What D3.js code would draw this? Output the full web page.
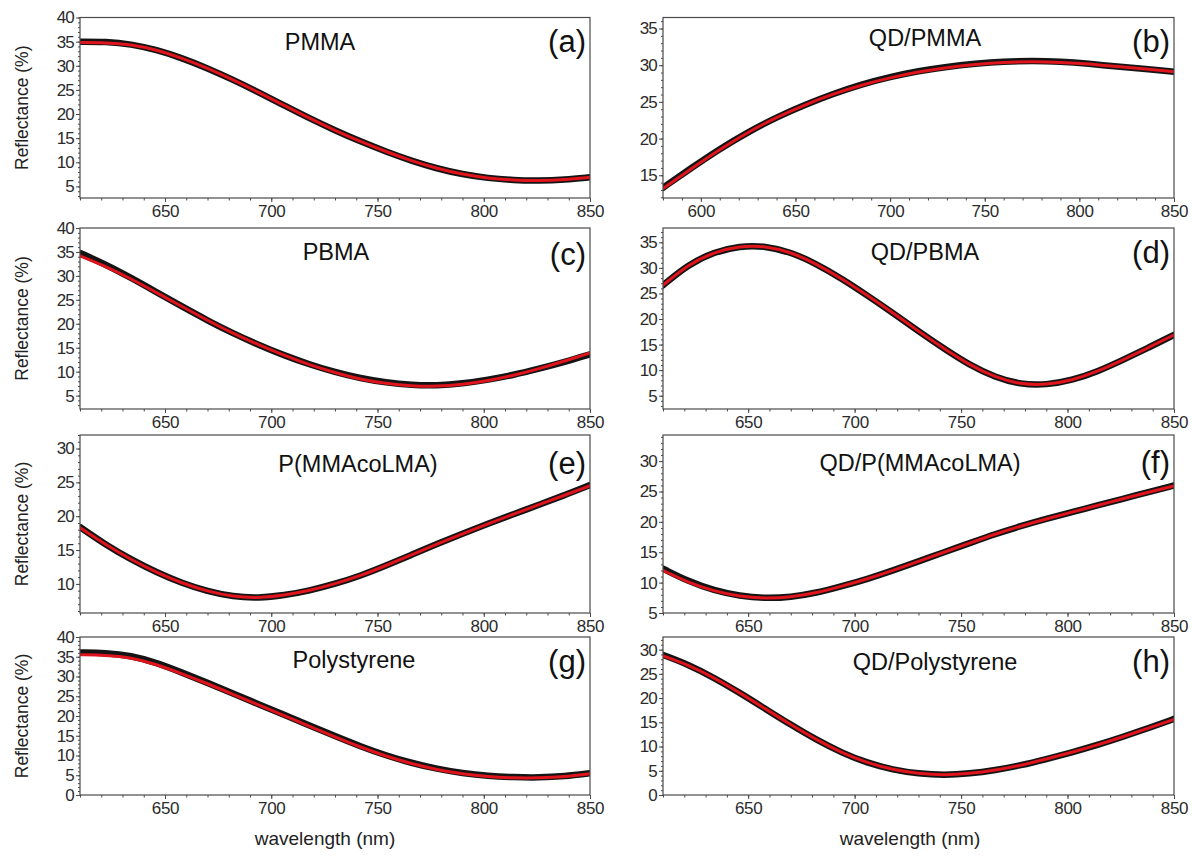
<!DOCTYPE html>
<html>
<head>
<meta charset="utf-8">
<script src="https://cdn.jsdelivr.net/npm/d3@7/dist/d3.min.js"></script>
<style>
  html, body { margin: 0; padding: 0; background: #fff; }
  svg { display: block; font-family: "Liberation Sans", Arial, Helvetica, sans-serif; }
</style>
</head>
<body>
<svg id="chart" width="1192" height="857"></svg>
<script>
// Wavelength grids (nm)
const wl = [610, 622, 634, 646, 658, 670, 682, 694, 706, 718, 730, 742, 754, 766, 778, 790, 802, 814, 826, 838, 850];
const wlQdPmma = [580, 595, 610, 625, 640, 655, 670, 685, 700, 715, 730, 745, 760, 775, 790, 805, 820, 835, 850];

// Reflectance (%) — measured spectra and fitted curves
const pmmaMeas   = [35.0, 35.0, 34.5, 33.3, 31.6, 29.5, 27.1, 24.5, 21.8, 19.1, 16.6, 14.3, 12.2, 10.3, 8.7, 7.5, 6.7, 6.3, 6.2, 6.4, 6.9];
const pmmaFit    = [34.8, 34.8, 34.4, 33.3, 31.6, 29.5, 27.1, 24.5, 21.8, 19.1, 16.6, 14.3, 12.2, 10.3, 8.7, 7.5, 6.7, 6.3, 6.2, 6.4, 6.9];
const qdPmmaMeas = [13.3, 16.0, 18.6, 20.9, 22.9, 24.6, 26.1, 27.4, 28.4, 29.2, 29.8, 30.2, 30.5, 30.6, 30.5, 30.2, 29.8, 29.5, 29.1];
const qdPmmaFit  = [13.2, 15.9, 18.5, 20.9, 22.9, 24.6, 26.1, 27.3, 28.3, 29.1, 29.7, 30.1, 30.4, 30.5, 30.4, 30.2, 29.8, 29.5, 29.1];
const pbmaMeas   = [34.8, 32.4, 29.6, 26.6, 23.6, 20.7, 18.0, 15.6, 13.4, 11.5, 9.9, 8.6, 7.7, 7.2, 7.1, 7.5, 8.3, 9.3, 10.6, 12.0, 13.6];
const pbmaFit    = [34.2, 32.0, 29.4, 26.5, 23.6, 20.7, 18.0, 15.6, 13.4, 11.4, 9.8, 8.4, 7.5, 7.0, 6.9, 7.3, 8.1, 9.2, 10.6, 12.2, 13.9];
const qdPbmaMeas = [26.6, 30.7, 33.1, 34.3, 34.3, 33.1, 30.8, 27.9, 24.6, 21.2, 17.6, 14.2, 11.0, 8.6, 7.2, 7.1, 8.0, 9.7, 12.0, 14.4, 16.9];
const qdPbmaFit  = [26.6, 30.7, 33.1, 34.3, 34.3, 33.1, 30.8, 27.9, 24.6, 21.2, 17.6, 14.2, 11.0, 8.6, 7.2, 7.1, 8.0, 9.7, 12.0, 14.4, 16.9];
const pcoMeas    = [18.4, 15.8, 13.6, 11.7, 10.1, 8.9, 8.1, 7.9, 8.3, 9.0, 10.0, 11.2, 12.7, 14.3, 15.9, 17.4, 18.9, 20.3, 21.7, 23.1, 24.6];
const pcoFit     = [18.3, 15.8, 13.6, 11.7, 10.1, 8.9, 8.1, 7.9, 8.3, 9.0, 10.0, 11.2, 12.7, 14.3, 15.9, 17.4, 18.9, 20.3, 21.7, 23.1, 24.5];
const qdPcoMeas  = [12.3, 10.2, 8.7, 7.8, 7.4, 7.6, 8.3, 9.4, 10.6, 12.0, 13.5, 15.0, 16.5, 18.0, 19.3, 20.5, 21.6, 22.7, 23.8, 24.9, 26.0];
const qdPcoFit   = [12.0, 10.0, 8.6, 7.7, 7.4, 7.6, 8.3, 9.4, 10.6, 12.0, 13.5, 15.0, 16.5, 18.0, 19.3, 20.5, 21.6, 22.7, 23.8, 24.9, 25.9];
const psMeas     = [36.1, 36.0, 35.3, 33.5, 31.0, 28.4, 25.7, 23.0, 20.3, 17.6, 14.9, 12.3, 10.0, 8.1, 6.6, 5.5, 4.8, 4.5, 4.4, 4.7, 5.5];
const psFit      = [35.5, 35.4, 34.8, 33.1, 30.7, 28.2, 25.5, 22.8, 20.1, 17.4, 14.7, 12.1, 9.8, 7.9, 6.4, 5.3, 4.6, 4.3, 4.3, 4.6, 5.4];
const qdPsMeas   = [28.9, 26.9, 24.2, 21.1, 17.8, 14.5, 11.4, 8.7, 6.6, 5.2, 4.4, 4.1, 4.4, 5.1, 6.1, 7.4, 8.8, 10.3, 12.0, 13.8, 15.7];
const qdPsFit    = [28.7, 26.8, 24.2, 21.1, 17.8, 14.5, 11.4, 8.7, 6.6, 5.2, 4.4, 4.1, 4.4, 5.1, 6.1, 7.4, 8.8, 10.3, 12.0, 13.8, 15.6];

// Panel titles, letters and axis ticks
const titles  = ["PMMA", "QD/PMMA", "PBMA", "QD/PBMA", "P(MMAcoLMA)", "QD/P(MMAcoLMA)", "Polystyrene", "QD/Polystyrene"];
const letters = ["(a)", "(b)", "(c)", "(d)", "(e)", "(f)", "(g)", "(h)"];
const xTicks       = [650, 700, 750, 800, 850];
const xTicksQdPmma = [600, 650, 700, 750, 800, 850];
const yTicks = [
  [5, 10, 15, 20, 25, 30, 35, 40],
  [15, 20, 25, 30, 35],
  [5, 10, 15, 20, 25, 30, 35, 40],
  [5, 10, 15, 20, 25, 30, 35],
  [10, 15, 20, 25, 30],
  [5, 10, 15, 20, 25, 30],
  [0, 5, 10, 15, 20, 25, 30, 35, 40],
  [0, 5, 10, 15, 20, 25, 30]
];
const xDomains = [[610, 850], [580, 850], [610, 850], [610, 850], [610, 850], [610, 850], [610, 850], [610, 850]];
const yDomains = [[2.6, 40], [11.9, 36.5], [2.2, 40], [2.4, 37.8], [5.7, 32], [5, 34.3], [0, 40], [0, 32.6]];

const panelData = [
  { x: wl, meas: pmmaMeas, fit: pmmaFit },
  { x: wlQdPmma, meas: qdPmmaMeas, fit: qdPmmaFit },
  { x: wl, meas: pbmaMeas, fit: pbmaFit },
  { x: wl, meas: qdPbmaMeas, fit: qdPbmaFit },
  { x: wl, meas: pcoMeas, fit: pcoFit },
  { x: wl, meas: qdPcoMeas, fit: qdPcoFit },
  { x: wl, meas: psMeas, fit: psFit },
  { x: wl, meas: qdPsMeas, fit: qdPsFit }
];

// Layout of the 4x2 grid of plot frames
const colX = [[80, 590], [663, 1174]];
const rowY = [[17.5, 198], [228, 409], [435, 613], [637, 795]];
const titleX    = [320, 925, 336, 925, 358, 920, 354, 935];
const titleFrac = [0.136, 0.114, 0.133, 0.133, 0.163, 0.157, 0.146, 0.158];
const letterFrac = [0.136, 0.136, 0.149, 0.138, 0.163, 0.157, 0.158, 0.158];

const svg = d3.select("#chart");
const frameColor = "#4a4a4a";
const labelColor = "#2b2b2b";

panelData.forEach((p, i) => {
  const col = i % 2, row = Math.floor(i / 2);
  const [x0, x1] = colX[col];
  const [y0, y1] = rowY[row];
  const x = d3.scaleLinear().domain(xDomains[i]).range([x0, x1]);
  const y = d3.scaleLinear().domain(yDomains[i]).range([y1, y0]);
  const g = svg.append("g");

  // minor ticks
  const xd = xDomains[i], yd = yDomains[i];
  const xMinor = d3.range(Math.ceil(xd[0] / 10) * 10, xd[1] + 0.1, 10);
  const yMinor = d3.range(Math.ceil(yd[0]), yd[1] + 0.01, 1);

  g.append("g")
    .attr("transform", `translate(0,${y1})`)
    .call(d3.axisBottom(x).tickValues(xMinor).tickSize(2.5).tickFormat(""))
    .call(a => a.select(".domain").remove())
    .call(a => a.selectAll("line").attr("stroke", frameColor));
  g.append("g")
    .attr("transform", `translate(${x0},0)`)
    .call(d3.axisLeft(y).tickValues(yMinor).tickSize(2).tickFormat(""))
    .call(a => a.select(".domain").remove())
    .call(a => a.selectAll("line").attr("stroke", frameColor));

  // major ticks and labels
  const xAx = g.append("g")
    .attr("transform", `translate(0,${y1})`)
    .call(d3.axisBottom(x).tickValues(i === 1 ? xTicksQdPmma : xTicks).tickSize(4).tickPadding(3).tickFormat(d3.format("d")));
  xAx.select(".domain").remove();
  xAx.selectAll("line").attr("stroke", frameColor);
  xAx.selectAll("text").attr("font-size", 17).attr("fill", labelColor)
    .attr("font-family", "Liberation Sans, Arial, sans-serif").attr("letter-spacing", -0.3);

  const yAx = g.append("g")
    .attr("transform", `translate(${x0},0)`)
    .call(d3.axisLeft(y).tickValues(yTicks[i]).tickSize(4).tickPadding(2).tickFormat(d3.format("d")));
  yAx.select(".domain").remove();
  yAx.selectAll("line").attr("stroke", frameColor);
  yAx.selectAll("text").attr("font-size", 17).attr("fill", labelColor)
    .attr("font-family", "Liberation Sans, Arial, sans-serif").attr("letter-spacing", -0.8);

  // clip curves to the frame
  const clipId = "clip" + i;
  svg.append("clipPath").attr("id", clipId)
    .append("rect").attr("x", x0).attr("y", y0).attr("width", x1 - x0).attr("height", y1 - y0);

  const line = d3.line().curve(d3.curveBasis);
  const measPts = p.x.map((w, k) => [x(w), y(p.meas[k])]);
  const fitPts = p.x.map((w, k) => [x(w), y(p.fit[k])]);

  const curves = g.append("g").attr("clip-path", `url(#${clipId})`);
  curves.append("path").attr("d", line(measPts))
    .attr("fill", "none").attr("stroke", "#141414").attr("stroke-width", 6.5)
    .attr("stroke-linecap", "round").attr("stroke-linejoin", "round");
  curves.append("path").attr("d", line(fitPts))
    .attr("fill", "none").attr("stroke", "#e0141c").attr("stroke-width", 3)
    .attr("stroke-linecap", "round");

  // frame
  g.append("rect").attr("x", x0).attr("y", y0).attr("width", x1 - x0).attr("height", y1 - y0)
    .attr("fill", "none").attr("stroke", frameColor).attr("stroke-width", 1.2);

  // title and panel letter
  const ty = y0 + titleFrac[i] * (y1 - y0);
  g.append("text").attr("x", titleX[i]).attr("y", ty + 8.4)
    .attr("text-anchor", "middle").attr("font-size", 23.5).attr("fill", "#111")
    .text(titles[i]);
  const ly = y0 + letterFrac[i] * (y1 - y0);
  g.append("text").attr("x", x1 - 4).attr("y", ly + 10)
    .attr("text-anchor", "end").attr("font-size", 31).attr("fill", "#111")
    .text(letters[i]);

  // y-axis title on the left column
  if (col === 0) {
    svg.append("text")
      .attr("transform", `translate(28,${(y0 + y1) / 2}) rotate(-90)`)
      .attr("text-anchor", "middle").attr("font-size", 17.5).attr("fill", "#222")
      .text("Reflectance (%)");
  }
  // x-axis title under the bottom row
  if (row === 3) {
    svg.append("text")
      .attr("x", col === 0 ? 325 : 910).attr("y", 845)
      .attr("text-anchor", "middle").attr("font-size", 19).attr("fill", "#222")
      .text("wavelength (nm)");
  }
});
</script>
</body>
</html>
